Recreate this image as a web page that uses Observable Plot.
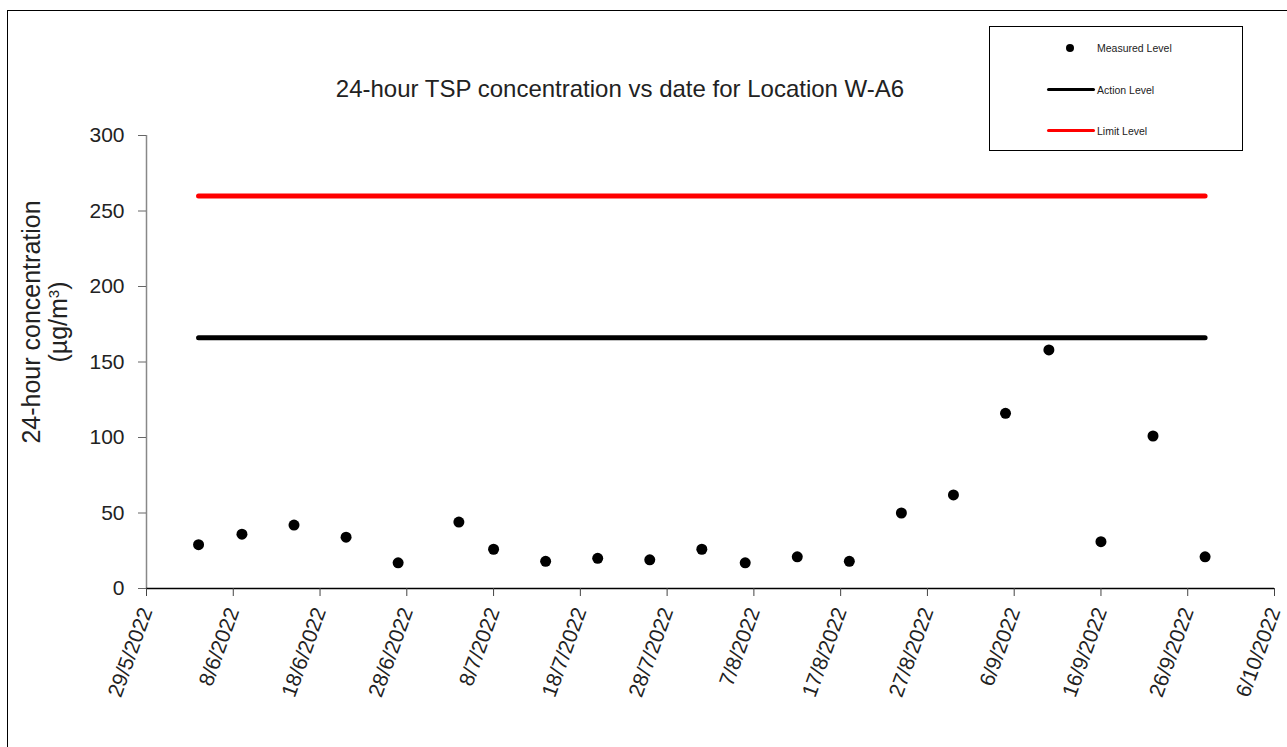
<!DOCTYPE html>
<html>
<head>
<meta charset="utf-8">
<script src="https://cdn.jsdelivr.net/npm/d3@7"></script>
<script src="https://cdn.jsdelivr.net/npm/@observablehq/plot@0.6"></script>
<style>
  html, body { margin: 0; padding: 0; background: #fff; }
  body { width: 1287px; height: 747px; position: relative; overflow: hidden; font-family: "Liberation Sans", Arial, sans-serif; }
  #frame { position: absolute; left: 7px; top: 10px; width: 1400px; height: 900px; border-left: 1.5px solid #000; border-top: 1.5px solid #000; box-sizing: border-box; }
  #chart { position: absolute; left: 0; top: 0; }
  #title { position: absolute; left: 0; width: 1240px; top: 75px; text-align: center; font-size: 24px; color: #222; }
  #ylabel { position: absolute; left: 45px; top: 322px; transform: translate(-50%, -50%) rotate(-90deg); text-align: center; font-size: 25px; line-height: 27px; color: #222; white-space: nowrap; }
  #legend { position: absolute; left: 989px; top: 26px; width: 254px; height: 125px; border: 1px solid #000; box-sizing: border-box; background: #fff; font-size: 10.5px; color: #222; }
  .sym { position: absolute; }
  .txt { position: absolute; left: 107px; white-space: nowrap; line-height: 14px; }
</style>
</head>
<body>
<div id="frame"></div>
<div id="chart"></div>
<div id="title">24-hour TSP concentration vs date for Location W-A6</div>
<div id="ylabel">24-hour concentration<br>(µg/m<sup style="font-size:15px;vertical-align:8px;line-height:0">3</sup>)</div>
<div id="legend"></div>
<script>
// Data
const sampleDates = ["2022-06-04","2022-06-09","2022-06-15","2022-06-21","2022-06-27","2022-07-04","2022-07-08","2022-07-14","2022-07-20","2022-07-26","2022-08-01","2022-08-06","2022-08-12","2022-08-18","2022-08-24","2022-08-30","2022-09-05","2022-09-10","2022-09-16","2022-09-22","2022-09-28"];
const measuredLevels = [29, 36, 42, 34, 17, 44, 26, 18, 20, 19, 26, 17, 21, 18, 50, 62, 116, 158, 31, 101, 21];
const actionLevel = 166;
const limitLevel = 260;
const xTickDates = ["2022-05-29","2022-06-08","2022-06-18","2022-06-28","2022-07-08","2022-07-18","2022-07-28","2022-08-07","2022-08-17","2022-08-27","2022-09-06","2022-09-16","2022-09-26","2022-10-06"];
const yTicks = [0, 50, 100, 150, 200, 250, 300];
const legendLabels = ["Measured Level", "Action Level", "Limit Level"];

const data = sampleDates.map((d, i) => ({date: new Date(d), value: measuredLevels[i]}));
const ticks = xTickDates.map(d => new Date(d));
const fmt = d3.utcFormat("%-d/%-m/%Y");

const plot = Plot.plot({
  width: 1287,
  height: 747,
  marginLeft: 146,
  marginRight: 13,
  marginTop: 135,
  marginBottom: 159,
  style: {fontFamily: "'Liberation Sans', Arial, sans-serif", background: "transparent", color: "#222"},
  x: {type: "utc", domain: [ticks[0], ticks[ticks.length - 1]]},
  y: {domain: [0, 300]},
  marks: [
    Plot.ruleX([ticks[0]], {y1: 0, y2: 300, stroke: "#888", strokeWidth: 1.5}),
    Plot.ruleY([0], {stroke: "#000", strokeWidth: 1.5}),
    Plot.axisY({ticks: yTicks, tickSize: 8, tickPadding: 14, fontSize: 21, stroke: "#666", label: null}),
    Plot.axisX({ticks: ticks, tickFormat: fmt, tickSize: 8, tickPadding: 12, tickRotate: -70, fontSize: 21, stroke: "#444", label: null}),
    Plot.line(data, {x: "date", y: () => limitLevel, stroke: "#ff0000", strokeWidth: 5, strokeLinecap: "round"}),
    Plot.line(data, {x: "date", y: () => actionLevel, stroke: "#000", strokeWidth: 5, strokeLinecap: "round"}),
    Plot.dot(data, {x: "date", y: "value", r: 5.5, fill: "#000"})
  ]
});
document.getElementById("chart").appendChild(plot);

// Legend
const legend = document.getElementById("legend");
const rows = [
  {label: legendLabels[0], top: 14, kind: "dot", color: "#000"},
  {label: legendLabels[1], top: 56, kind: "line", color: "#000"},
  {label: legendLabels[2], top: 97, kind: "line", color: "#ff0000"}
];
rows.forEach(r => {
  const sym = document.createElement("div");
  sym.className = "sym";
  if (r.kind === "dot") {
    Object.assign(sym.style, {left: "76px", top: (r.top + 3) + "px", width: "8px", height: "8px", borderRadius: "50%", background: r.color});
  } else {
    Object.assign(sym.style, {left: "57px", top: (r.top + 5) + "px", width: "48px", height: "3px", borderRadius: "2px", background: r.color});
  }
  legend.appendChild(sym);
  const t = document.createElement("div");
  t.className = "txt";
  t.style.top = r.top + "px";
  t.textContent = r.label;
  legend.appendChild(t);
});
</script>
</body>
</html>
